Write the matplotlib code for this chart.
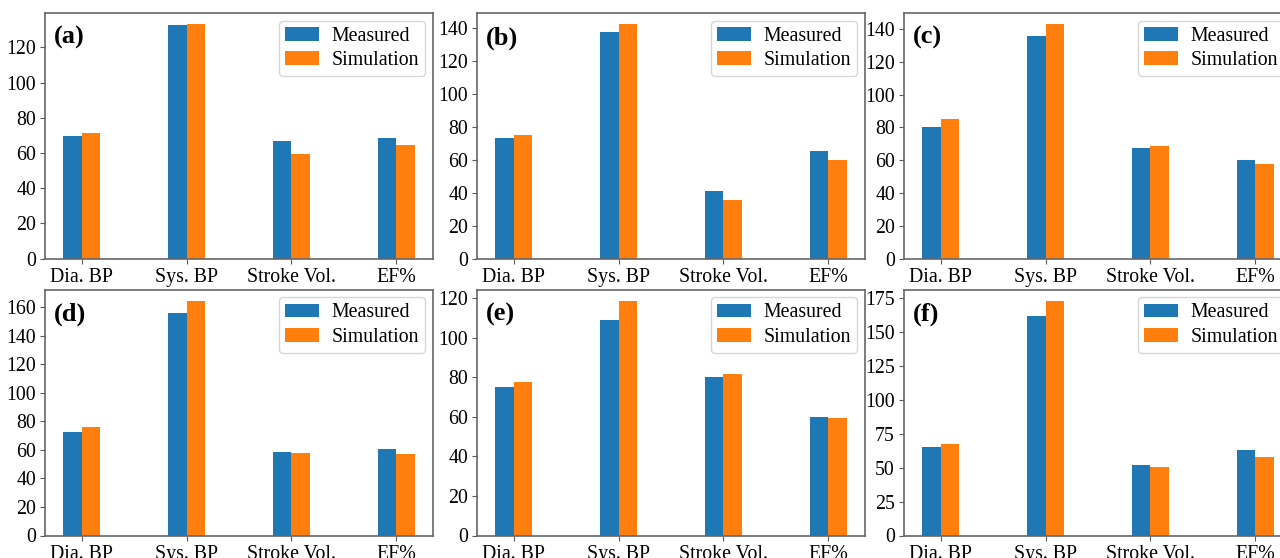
import matplotlib
matplotlib.use("Agg")
import matplotlib.pyplot as plt
from matplotlib.ticker import MultipleLocator
import numpy as np

categories = ["Dia. BP", "Sys. BP", "Stroke Vol.", "EF%"]
panel_labels = ["(a)", "(b)", "(c)", "(d)", "(e)", "(f)"]
ytick_steps = [20, 20, 20, 20, 20, 25]

measured_a = [69.4, 132.8, 66.6, 68.3]
simulation_a = [71.1, 133.0, 59.2, 64.3]
measured_b = [73.3, 137.2, 40.8, 65.5]
simulation_b = [75.1, 142.0, 35.3, 60.1]
measured_c = [80.4, 135.6, 67.7, 60.4]
simulation_c = [85.3, 142.8, 68.9, 58.0]
measured_d = [72.2, 155.8, 58.3, 60.4]
simulation_d = [75.7, 164.2, 57.6, 56.9]
measured_e = [75.0, 109.0, 80.1, 59.8]
simulation_e = [77.6, 118.6, 81.6, 59.3]
measured_f = [65.3, 161.8, 52.0, 63.1]
simulation_f = [67.5, 172.8, 50.6, 57.9]

measured = [measured_a, measured_b, measured_c, measured_d, measured_e, measured_f]
simulation = [simulation_a, simulation_b, simulation_c, simulation_d, simulation_e, simulation_f]

plt.rcParams["font.family"] = ["Liberation Serif", "DejaVu Serif"]

W, H = 1280, 558
fig = plt.figure(figsize=(W / 100, H / 100), dpi=100)

lefts = [45, 477, 904]
tops = [12.7, 289.5]
aw, ah = 388, 246

bw = 0.18
x = np.arange(len(categories))
for i in range(6):
    r, c = divmod(i, 3)
    l = lefts[c]
    t = tops[r]
    ax = fig.add_axes([l / W, (H - t - ah) / H, aw / W, ah / H])
    ax.bar(x - bw / 2, measured[i], bw, color="#1f77b4", label="Measured")
    ax.bar(x + bw / 2, simulation[i], bw, color="#ff7f0e", label="Simulation")
    ax.set_xticks(x)
    ax.set_xticklabels(categories)
    ax.yaxis.set_major_locator(MultipleLocator(ytick_steps[i]))
    ax.tick_params(labelsize=14.3, color="0.35", length=3.5, pad=3)
    for s in ax.spines.values():
        s.set_color("0.4")
        s.set_linewidth(1.2)
    ax.text(0.022, 0.945, panel_labels[i], transform=ax.transAxes, va="top", ha="left",
            fontsize=19, fontweight="bold")
    ax.legend(loc="upper right", fontsize=14.3, handlelength=1.7, handletextpad=0.65,
              borderpad=0.3, labelspacing=0.28, borderaxespad=0.4)

fig.savefig("out.png", dpi=100)
